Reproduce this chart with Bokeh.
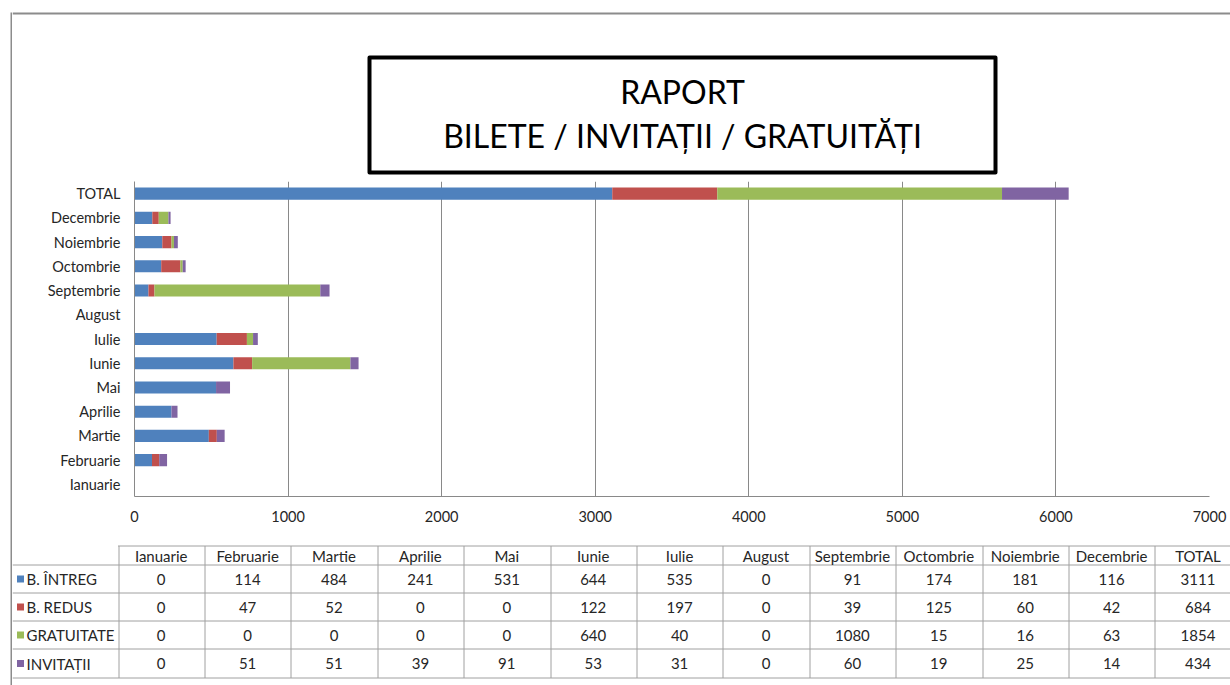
from bokeh.plotting import figure
from bokeh.models import ColumnDataSource, Range1d, FactorRange, FixedTicker, Spacer
from bokeh.layouts import column, row
from bokeh.embed import file_html
from bokeh.resources import INLINE
from bokeh.core.properties import value

# ---------------- data ----------------
months = ["Ianuarie", "Februarie", "Martie", "Aprilie", "Mai", "Iunie", "Iulie",
          "August", "Septembrie", "Octombrie", "Noiembrie", "Decembrie"]
total_label = "TOTAL"
series_names = ["B. ÎNTREG", "B. REDUS", "GRATUITATE", "INVITAȚII"]
intreg = [0, 114, 484, 241, 531, 644, 535, 0, 91, 174, 181, 116]
redus = [0, 47, 52, 0, 0, 122, 197, 0, 39, 125, 60, 42]
gratuitate = [0, 0, 0, 0, 0, 640, 40, 0, 1080, 15, 16, 63]
invitatii = [0, 51, 51, 39, 91, 53, 31, 0, 60, 19, 25, 14]
colors = ["#4F81BD", "#C0504D", "#9BBB59", "#8064A2"]
title_lines = ["RAPORT", "BILETE / INVITAȚII / GRATUITĂȚI"]
x_ticks = [0, 1000, 2000, 3000, 4000, 5000, 6000, 7000]

series = [intreg, redus, gratuitate, invitatii]
totals = [sum(s) for s in series]
categories = months + [total_label]
keys = ["intreg", "redus", "gratuitate", "invitatii"]
data = {"cat": categories}
for k, s, t in zip(keys, series, totals):
    data[k] = s + [t]
src = ColumnDataSource(data)

FONT = "Lato"
TXT = "#262626"
GRID = "#898989"
FRAME = "#8c8c8c"
TBL = "#a0a0a0"
W = 1230
X0 = 12  # left edge of the main column (right of the gray frame line)
CW = W - X0

def blank(w, h, xr, yr, fill="white"):
    p = figure(width=w, height=h, x_range=Range1d(*xr), y_range=Range1d(*yr),
               output_backend="svg", toolbar_location=None,
               x_axis_type=None, y_axis_type=None,
               min_border=0, min_border_left=0, min_border_right=0,
               min_border_top=0, min_border_bottom=0, frame_align=False)
    p.grid.visible = False
    p.outline_line_color = None
    p.background_fill_color = fill
    p.border_fill_color = fill
    return p

# ---------------- gray frame line on the left ----------------
left_line = blank(2, 685 - 12, (0, 1), (0, 1), fill=FRAME)

# ---------------- title area ----------------
pa = blank(CW, 178, (X0, W), (178, 0))
pa.segment(x0=[X0], y0=[13], x1=[W], y1=[13], line_color=FRAME, line_width=2)
pa.quad(left=[369], right=[995], top=[57], bottom=[172], fill_color="white",
        line_color="black", line_width=4, line_join="round")
pa.text(x=[682, 682], y=[91, 135], text=title_lines, text_align="center",
        text_baseline="middle", text_font=value(FONT), text_font_size="32px",
        text_color="black")

# ---------------- chart ----------------
pb = figure(width=CW, height=362, x_range=Range1d(0, 7000),
            y_range=FactorRange(factors=categories),
            output_backend="svg", toolbar_location=None,
            min_border_left=134 - X0, min_border_right=21,
            min_border_top=3, min_border_bottom=44, frame_align=False)
pb.hbar_stack(keys, y="cat", height=0.5, fill_color=colors, line_color=None, source=src)
pb.xaxis.ticker = FixedTicker(ticks=x_ticks)
for ax in (pb.xaxis, pb.yaxis):
    ax.major_tick_out = 0
    ax.major_tick_in = 0
    ax.minor_tick_out = 0
    ax.minor_tick_in = 0
    ax.axis_line_color = GRID
    ax.major_label_text_font = FONT
    ax.major_label_text_font_size = "14.5px"
    ax.major_label_text_color = TXT
pb.xaxis.major_label_standoff = 14
pb.yaxis.major_label_standoff = 14
pb.xgrid.grid_line_color = GRID
pb.ygrid.grid_line_color = None
pb.outline_line_color = None
pb.background_fill_color = "white"
pb.border_fill_color = "white"

# ---------------- data table ----------------
pc = blank(CW, 145, (X0, W), (685, 540))

col0 = 117.5
colw = 86.4
row_edges = [545.5, 564.5, 592.5, 620.5, 648.5, 677.5]
ncols = len(categories)

# horizontal lines
hx0 = [col0] + [X0] * (len(row_edges) - 1)
pc.segment(x0=hx0, y0=row_edges, x1=[W] * len(row_edges), y1=row_edges,
           line_color=TBL, line_width=1)
# vertical lines
vx = [round(col0 + i * colw) + 0.5 for i in range(ncols + 1)]
pc.segment(x0=vx, y0=[row_edges[0]] * len(vx), x1=vx, y1=[row_edges[-1]] * len(vx),
           line_color=TBL, line_width=1)

centers = [col0 + (i + 0.5) * colw for i in range(ncols)]
hdr_y = (row_edges[0] + row_edges[1]) / 2
pc.text(x=centers, y=[hdr_y] * ncols, text=categories, text_align="center",
        text_baseline="middle", text_font=value(FONT), text_font_size="15px",
        text_color=TXT)

for r, (name, s, t, c) in enumerate(zip(series_names, series, totals, colors)):
    yc = (row_edges[r + 1] + row_edges[r + 2]) / 2
    vals = [str(v) for v in s + [t]]
    pc.text(x=centers, y=[yc] * ncols, text=vals, text_align="center",
            text_baseline="middle", text_font=value(FONT), text_font_size="15px",
            text_color=TXT)
    pc.scatter(x=[20], y=[yc], marker="square", size=7, fill_color=c, line_color=None)
    pc.text(x=[26], y=[yc], text=[name], text_align="left", text_baseline="middle",
            text_font=value(FONT), text_font_size="15px", text_color=TXT)

layout = row(
    Spacer(width=10, height=685),
    column(Spacer(width=2, height=12), left_line),
    column(pa, pb, pc),
)
open("out.html", "w").write(file_html(layout, INLINE))
